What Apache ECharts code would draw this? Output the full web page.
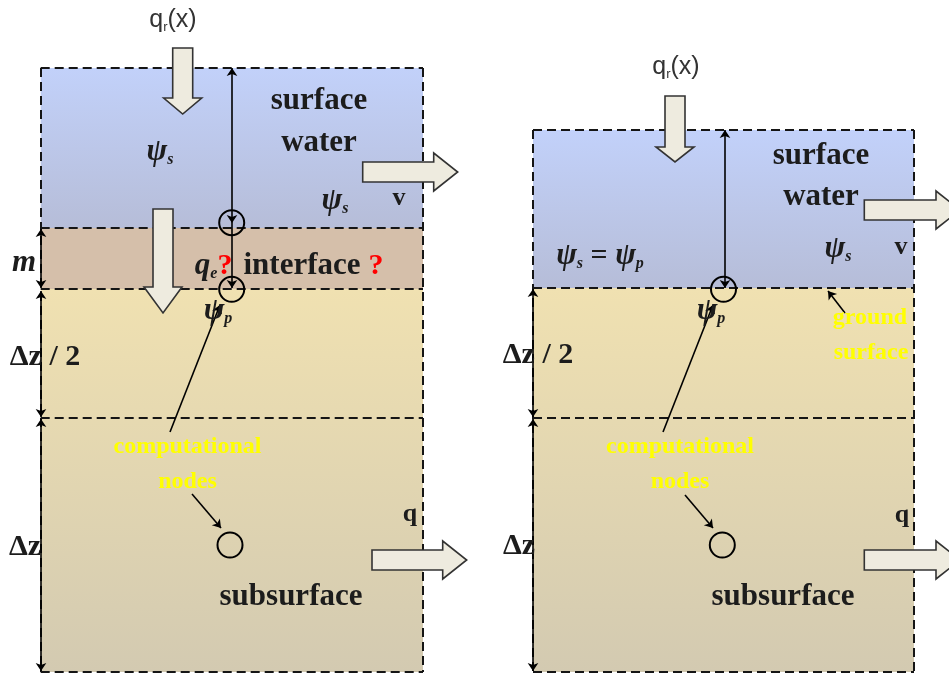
<!DOCTYPE html>
<html><head><meta charset="utf-8">
<script src="https://cdn.jsdelivr.net/npm/echarts@6/dist/echarts.min.js"></script>
<style>html,body{margin:0;padding:0;background:#fff}#c{width:949px;height:677px}</style>
</head><body><div id="c"></div>
<script>
// ---------------- data (diagram coordinates) ----------------
const leftPanelX = [40.7, 423];
const rightPanelX = [533, 914];
// boundaries: water top, interface top, ground surface, cell boundary, bottom
const leftLayerY = [68, 228, 289, 418, 672];
// boundaries: water top, ground surface, cell boundary, bottom
const rightLayerY = [130, 288, 418, 672];
const nodeCircles = [[231.7, 222.7], [231.7, 289.3], [230, 545], [723.5, 289.3], [722.3, 545]];
const blockArrowTail = [[182.7, 48], [163, 209], [362.7, 172], [372, 560], [675, 96], [864.3, 210], [864.3, 560]];
const blockArrowTip = [[182.7, 114], [163, 313], [457.7, 172], [466.7, 560], [675, 162], [960, 210], [960, 560]];
const blockArrowHeadLen = [16, 26, 24, 24, 15, 24, 24];
const doubleArrows = [
  [[232, 68], [232, 223]], [[725, 130], [725, 288]],
  [[41, 229], [41, 288]], [[41, 291], [41, 417]], [[41, 419], [41, 671]],
  [[533, 289], [533, 417]], [[533, 419], [533, 671]]
];
const singleArrows = [
  [[232, 223], [232, 288]], [[170, 432], [220, 305]], [[663, 432], [713, 305]],
  [[192, 494], [221, 528]], [[685, 495], [713, 528]], [[845, 313], [828, 291]]
];
const labelText = [
  '{m|q}{rs|r}{m|(x)}', '{m|q}{rs|r}{m|(x)}',
  'surface', 'water', 'surface', 'water',
  '{psi|ψ}{sub|s}', '{psi|ψ}{sub|s}', '{psi|ψ}{sub|s}', '{psi|ψ}{sub|s}{eq| = }{psi|ψ}{sub|p}',
  'v', 'v', 'm', '{psi|q}{sub|e}', '?', 'interface', '?',
  '{psi|ψ}{sub|p}', '{psi|ψ}{sub|p}',
  'Δz / 2', 'Δz / 2', 'Δz', 'Δz',
  'computational', 'nodes', 'computational', 'nodes', 'ground', 'surface',
  'q', 'q', 'subsurface', 'subsurface'
];
const labelX = [173, 676, 319, 319, 821, 821, 160, 335, 838, 600, 399, 901, 24, 206, 225, 302, 376,
  218, 711, 45, 538, 25, 519, 187.5, 187.5, 680, 680, 870, 871, 410, 902, 291, 783];
const labelY = [20, 67, 101, 143, 156, 197, 152, 201, 249, 256, 198, 247, 263, 266, 266, 266, 266,
  311, 311, 357, 355, 547, 546, 447, 482, 447, 482, 318, 353, 514, 515, 597, 597];
const labelKind = ['sans', 'sans', 'word', 'word', 'word', 'word', 'math', 'math', 'math', 'math',
  'small', 'small', 'ital', 'math', 'red', 'word', 'red', 'math', 'math', 'delta', 'delta', 'delta', 'delta',
  'yellow', 'yellow', 'yellow', 'yellow', 'yellow', 'yellow', 'small', 'small', 'word', 'word'];

// ---------------- styles ----------------
const SERIF = '"Liberation Serif", "DejaVu Serif", serif';
const kinds = {
  sans: { font: '25px "Liberation Sans", Arial, sans-serif', fill: '#333' },
  word: { font: 'bold 31px ' + SERIF, fill: '#1c1c1c' },
  math: { font: 'italic bold 30px ' + SERIF, fill: '#1c1c1c' },
  small: { font: 'bold 26px ' + SERIF, fill: '#1c1c1c' },
  ital: { font: 'italic bold 31px ' + SERIF, fill: '#1c1c1c' },
  red: { font: 'bold 30px ' + SERIF, fill: '#ff0000' },
  delta: { font: 'bold 30px ' + SERIF, fill: '#1c1c1c' },
  yellow: { font: 'bold 24px ' + SERIF, fill: '#ffff00' }
};
const rich = {
  m: { font: '25px "Liberation Sans", Arial, sans-serif', lineHeight: 28 },
  rs: { font: '13px "Liberation Sans", Arial, sans-serif', lineHeight: 10, verticalAlign: 'bottom' },
  psi: { font: 'italic bold 31px ' + SERIF, lineHeight: 32 },
  sub: { font: 'italic bold 16px ' + SERIF, lineHeight: 10, verticalAlign: 'bottom' },
  eq: { font: 'bold 30px ' + SERIF, lineHeight: 32 }
};
const grad = (c0, c1) => new echarts.graphic.LinearGradient(0, 0, 0, 1, [{ offset: 0, color: c0 }, { offset: 1, color: c1 }]);
const fills = [
  grad('#c2d1fa', '#b6bdd8'),   // water
  '#d5bfaa',                    // interface
  grad('#f0e1b1', '#d3cab1')    // soil
];

// ---------------- build items ----------------
const rects = [
  [leftPanelX[0], leftLayerY[0], leftPanelX[1], leftLayerY[1], 0],
  [leftPanelX[0], leftLayerY[1], leftPanelX[1], leftLayerY[2], 1],
  [leftPanelX[0], leftLayerY[2], leftPanelX[1], leftLayerY[4], 2],
  [rightPanelX[0], rightLayerY[0], rightPanelX[1], rightLayerY[1], 0],
  [rightPanelX[0], rightLayerY[1], rightPanelX[1], rightLayerY[3], 2]
];
function panelDashes(px, ly) {
  const segs = [];
  const top = ly[0], bot = ly[ly.length - 1];
  segs.push([[px[0], top], [px[1], top]]);
  segs.push([[px[0], top], [px[0], bot]]);
  segs.push([[px[1], top], [px[1], bot]]);
  for (let i = 1; i < ly.length; i++) segs.push([[px[0], ly[i]], [px[1], ly[i]]]);
  return segs;
}
const dashSegs = panelDashes(leftPanelX, leftLayerY).concat(panelDashes(rightPanelX, rightLayerY));

const chart = echarts.init(document.getElementById('c'), null, { renderer: 'canvas' });
chart.setOption({
  animation: false,
  backgroundColor: '#ffffff',
  grid: { left: 0, right: 0, top: 0, bottom: 0 },
  xAxis: { type: 'value', min: 0, max: 949, show: false },
  yAxis: { type: 'value', min: 0, max: 677, inverse: true, show: false },
  series: [
    {
      type: 'custom', z: 1, clip: false,
      data: rects,
      renderItem: (params, api) => {
        const a = api.coord([api.value(0), api.value(1)]);
        const b = api.coord([api.value(2), api.value(3)]);
        return { type: 'rect', shape: { x: a[0], y: a[1], width: b[0] - a[0], height: b[1] - a[1] },
          style: { fill: fills[api.value(4)] } };
      }
    },
    {
      type: 'lines', coordinateSystem: 'cartesian2d', z: 2,
      data: dashSegs.map(s => ({ coords: s })),
      symbol: ['none', 'none'],
      lineStyle: { color: '#151515', width: 2, type: [9, 5], opacity: 1 }
    },
    {
      type: 'lines', coordinateSystem: 'cartesian2d', z: 3,
      data: doubleArrows.map(s => ({ coords: s })),
      symbol: ['arrow', 'arrow'], symbolSize: 8,
      lineStyle: { color: '#000', width: 1.6, opacity: 1 }
    },
    {
      type: 'lines', coordinateSystem: 'cartesian2d', z: 3,
      data: singleArrows.map(s => ({ coords: s })),
      symbol: ['none', 'arrow'], symbolSize: 8,
      lineStyle: { color: '#000', width: 1.6, opacity: 1 }
    },
    {
      type: 'scatter', z: 4,
      data: nodeCircles,
      symbol: 'circle', symbolSize: 25,
      itemStyle: { color: 'rgba(0,0,0,0)', borderColor: '#000', borderWidth: 2, opacity: 1 }
    },
    {
      type: 'custom', z: 5, clip: false,
      data: blockArrowTail.map((t, i) => [t[0], t[1], blockArrowTip[i][0], blockArrowTip[i][1], blockArrowHeadLen[i]]),
      renderItem: (params, api) => {
        const p = api.coord([api.value(0), api.value(1)]);
        const q = api.coord([api.value(2), api.value(3)]);
        const hl = api.value(4);
        const dx = q[0] - p[0], dy = q[1] - p[1];
        const len = Math.hypot(dx, dy);
        const ux = dx / len, uy = dy / len, nx = -uy, ny = ux;
        const sw = 10, hw = 19;
        const nk = [q[0] - ux * hl, q[1] - uy * hl];
        const pts = [
          [p[0] + nx * sw, p[1] + ny * sw],
          [nk[0] + nx * sw, nk[1] + ny * sw],
          [nk[0] + nx * hw, nk[1] + ny * hw],
          [q[0], q[1]],
          [nk[0] - nx * hw, nk[1] - ny * hw],
          [nk[0] - nx * sw, nk[1] - ny * sw],
          [p[0] - nx * sw, p[1] - ny * sw]
        ];
        return { type: 'polygon', shape: { points: pts }, style: { fill: '#eeebdf', stroke: '#333', lineWidth: 1.6 } };
      }
    },
    {
      type: 'custom', z: 6, clip: false,
      data: labelX.map((x, i) => [x, labelY[i]]),
      renderItem: (params, api) => {
        const p = api.coord([api.value(0), api.value(1)]);
        const i = params.dataIndex;
        const k = kinds[labelKind[i]];
        return { type: 'text', x: p[0], y: p[1],
          style: { text: labelText[i], font: k.font, fill: k.fill, align: 'center', verticalAlign: 'middle', rich: rich } };
      }
    }
  ]
});
</script>
</body></html>
